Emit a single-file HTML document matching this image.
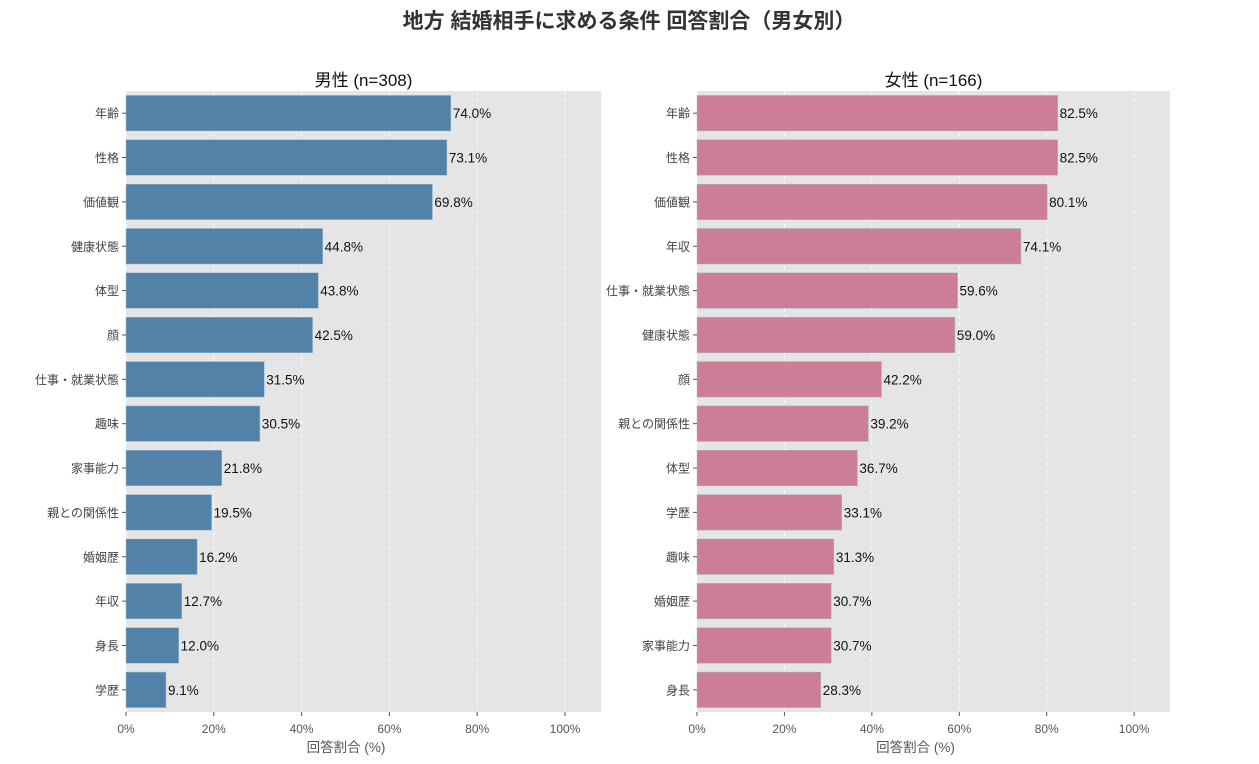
<!DOCTYPE html>
<html><head><meta charset="utf-8">
<style>
html,body{margin:0;padding:0;background:#fff;}
svg{display:block;font-family:"Liberation Sans","Noto Sans CJK JP",sans-serif;}
</style></head>
<body>
<svg id="chart" width="1259" height="764" viewBox="0 0 1259 764">
<text x="629" y="28" text-anchor="middle" font-size="21" font-weight="bold" fill="#333">地方 結婚相手に求める条件 回答割合（男女別）</text>
</svg>
<script>
const maleCategories = ["年齢","性格","価値観","健康状態","体型","顔","仕事・就業状態","趣味","家事能力","親との関係性","婚姻歴","年収","身長","学歴"];
const maleValues = [74.0,73.1,69.8,44.8,43.8,42.5,31.5,30.5,21.8,19.5,16.2,12.7,12.0,9.1];
const femaleCategories = ["年齢","性格","価値観","年収","仕事・就業状態","健康状態","顔","親との関係性","体型","学歴","趣味","婚姻歴","家事能力","身長"];
const femaleValues = [82.5,82.5,80.1,74.1,59.6,59.0,42.2,39.2,36.7,33.1,31.3,30.7,30.7,28.3];
const xTicks = [0,20,40,60,80,100];
const NS="http://www.w3.org/2000/svg";
const svg=document.getElementById('chart');
function mk(tag,attrs,parent){const e=document.createElementNS(NS,tag);for(const k in attrs)e.setAttribute(k,attrs[k]);(parent||svg).appendChild(e);return e;}
function panel(cats,vals,left,right,color,title,key){
  const top=91,bottom=712,xmax=108.2;
  const g=mk('g',{});
  
  
  const xs=v=>left+(v/xmax)*(right-left);
  const band=(bottom-top)/cats.length;
  const yc=i=>top+band*(i+0.5);
  const bg=mk('rect',{x:left,y:top,width:right-left,height:bottom-top,fill:'#e5e5e5'},g);
  
  
  xTicks.forEach(t=>{
    const ln=mk('line',{x1:xs(t),x2:xs(t),y1:top,y2:bottom,stroke:'#fff','stroke-dasharray':'4,3','stroke-width':0.8},g);
    
    
    mk('line',{x1:xs(t),x2:xs(t),y1:bottom,y2:bottom+4,stroke:'#555'},g);
    const tx=mk('text',{x:xs(t),y:bottom+21,'text-anchor':'middle','font-size':12,fill:'#555'},g);
    tx.textContent=t+'%';
    
    
  });
  cats.forEach((c,i)=>{
    const h=band*0.8;
    const r=mk('rect',{x:left,y:yc(i)-h/2,width:xs(vals[i])-left,height:h,fill:color,stroke:'#9fb8cc','stroke-width':0.5},g);
    
    
    mk('line',{x1:left-4,x2:left,y1:yc(i),y2:yc(i),stroke:'#555'},g);
    const lab=mk('text',{x:left-7,y:yc(i)+4.5,'text-anchor':'end','font-size':12,fill:'#444'},g);
    lab.textContent=c;
    
    
    const vl=mk('text',{x:xs(vals[i])+2,y:yc(i)+5,'font-size':13.5,fill:'#111'},g);
    vl.textContent=vals[i].toFixed(1)+'%';
    
    
  });
  const tt=mk('text',{x:(left+right)/2,y:86,'text-anchor':'middle','font-size':17,fill:'#111'},g);
  tt.textContent=title;
  
  
  const xl=mk('text',{x:(left+566*(left===126?1:0)+(left===126?0:1134))/2,y:752,'text-anchor':'middle','font-size':13.5,fill:'#555'},g);
  xl.textContent='回答割合 (%)';
  
  
}
panel(maleCategories,maleValues,126,601,'#5282a8','男性 (n=308)','male');
panel(femaleCategories,femaleValues,697,1170,'#cd7e97','女性 (n=166)','female');
</script>
</body></html>
